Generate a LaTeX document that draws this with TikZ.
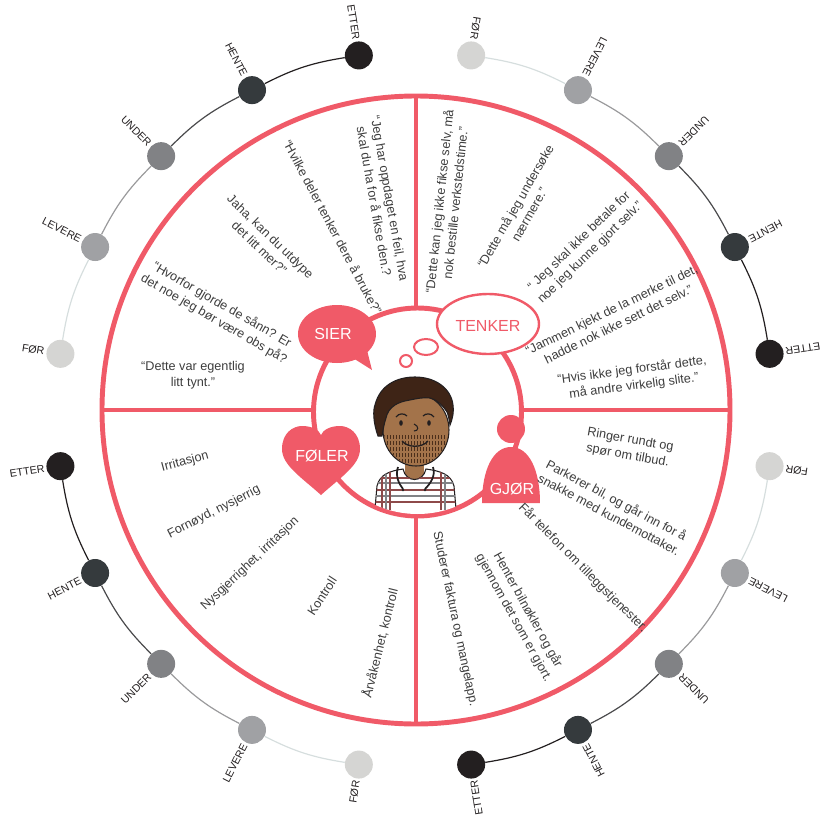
\documentclass[tikz,border=0pt]{standalone}
\usepackage{fontspec}
\setmainfont{Liberation Sans}
\usetikzlibrary{shapes.geometric}
\definecolor{jmred}{HTML}{F05A68}
\definecolor{jmtext}{HTML}{3D3D3D}
\definecolor{stfor}{HTML}{D5D5D3}
\definecolor{stlevere}{HTML}{A0A1A4}
\definecolor{stunder}{HTML}{818285}
\definecolor{sthente}{HTML}{353A3D}
\definecolor{stetter}{HTML}{231F20}
\definecolor{trailA}{HTML}{D6DEDE}
\definecolor{trailB}{HTML}{9A9A9C}
\definecolor{trailC}{HTML}{4A4A4C}
\definecolor{trailD}{HTML}{231F20}
\definecolor{skin}{HTML}{A3734A}
\definecolor{hair}{HTML}{3E2416}
\definecolor{beard}{HTML}{4B2E1A}
\definecolor{plaid}{HTML}{8E4A4A}
\tikzset{
  ring/.style    ={draw=jmred, line width=3.7pt},
  bubble/.style  ={draw=jmred, fill=white, line width=1.8pt},
  saying/.style  ={font=\fontsize{9.5}{12}\selectfont, text=jmtext, align=center, inner sep=0pt},
  badge/.style   ={font=\fontsize{12}{14}\selectfont, text=white, inner sep=0pt},
  stage/.style   ={circle, minimum size=21pt, inner sep=0pt},
  stagelbl/.style={font=\fontsize{8}{9}\selectfont, text=stetter, anchor=east, inner sep=0pt},
  trail/.style   ={line width=0.9pt},
  outline/.style ={draw=stetter, line width=0.8pt},
}

\begin{document}
\begin{tikzpicture}[x=0.75pt, y=0.75pt]
  \useasboundingbox (-415,-409) rectangle (407,410);

  % customer journey round the wheel, one arc per quarter
  \foreach \q in {0,90,180,270} {
    \foreach \a/\s/\c [count=\i] in {81/FØR/stfor, 63/LEVERE/stlevere, 45/UNDER/stunder, 27/HENTE/sthente, 9/ETTER/stetter} {
      \node[stage, fill=\c] (st\q-\i) at ({\q+\a}:359) {};
      \node[stagelbl, rotate={\q+\a+180}] (lb\q-\i) at ({\q+\a}:375) {\s};
    }
    \foreach \j/\k/\c in {1/2/trailA, 2/3/trailB, 3/4/trailC, 4/5/trailD}
      \draw[trail, draw=\c] (st\q-\j) to[bend left=9] (st\q-\k);
  }

  % wheel and quarters
  \draw[ring] (1,0) circle[radius=314];
  \draw[ring] (1,314) -- (1,-314);
  \draw[ring] (-313,0) -- (315,0);
  \filldraw[ring, fill=white] (2.5,-2) circle[radius=104];

  % the customer
  \begin{scope}
    \clip (2.5,-2) circle[radius=102];
    \fill[skin] (-10,-40) rectangle (9,-74);
    \filldraw[fill=white, outline] (-41,-110) -- (-38,-76) .. controls (-35,-64) and (-25,-61) .. (-12,-59)
      .. controls (-9,-73) and (8,-73) .. (11,-59) .. controls (25,-61) and (36,-64) .. (39,-76) -- (42,-110) -- cycle;
    \begin{scope}
      \clip (-41,-110) -- (-38,-76) .. controls (-35,-64) and (-25,-61) .. (-12,-59)
        .. controls (-9,-73) and (8,-73) .. (11,-59) .. controls (25,-61) and (36,-64) .. (39,-76) -- (42,-110) -- cycle;
      \foreach \py/\pc in {-68/plaid, -73/stunder, -80/plaid, -86/stunder, -92/plaid}
        \draw[\pc, line width=1pt] (-40,\py) -- (42,\py);
      \foreach \px/\pc in {-33/plaid, -29/stunder, -25/plaid, 26/plaid, 30/stunder}
        \draw[\pc, line width=1pt] (\px,-60) -- (\px,-100);
    \end{scope}
    \draw[stetter, line width=1.3pt] (-17,-57) .. controls (-20,-66) and (-16,-74) .. (-12,-79);
    \draw[stetter, line width=1.3pt] (18,-57) .. controls (21,-66) and (15,-74) .. (10,-79);
    \fill[stetter] (-12,-80) circle[radius=1.4] (10,-80) circle[radius=1.4];
    \filldraw[fill=skin, outline] (1,-20) ellipse[x radius=33, y radius=36];
    \begin{scope}
      \clip (1,-20) ellipse[x radius=32, y radius=35];
      \foreach \by in {-25,-31,...,-55}
        \foreach \bx in {-31,-28,...,31}
          \draw[beard, line width=0.5pt] (\bx,\by) -- ++(0,-4);
    \end{scope}
    \filldraw[fill=hair, outline] (-37,-26) .. controls (-42,-12) and (-42,0) .. (-40,5)
      .. controls (-35,25) and (-18,33) .. (0,33) .. controls (20,33) and (36,22) .. (38,5)
      .. controls (39,-4) and (37,-10) .. (35,-15) .. controls (34,-8) and (33,-4) .. (32,-2)
      .. controls (27,6) and (20,11) .. (15,12) .. controls (8,13) and (0,11) .. (-5,10)
      .. controls (-12,9) and (-17,7) .. (-20,5) .. controls (-25,2) and (-28,-3) .. (-29,-8)
      .. controls (-31,-14) and (-32,-20) .. (-33,-26) -- cycle;
    \draw[stetter, line width=0.9pt] (-19,-7) .. controls (-16,-3) and (-11,-3) .. (-8,-6);
    \draw[stetter, line width=0.9pt] (8,-6) .. controls (11,-3) and (16,-3) .. (19,-7);
    \fill[stetter] (-14,-13) ellipse[x radius=1.8, y radius=2.8] (14,-13) ellipse[x radius=1.8, y radius=2.8];
    \draw[stetter, line width=0.8pt] (-1,-14) .. controls (4,-16) and (4,-21) .. (-1,-21);
    \draw[stetter, line width=1pt] (-13,-31) .. controls (-7,-38) and (7,-38) .. (13,-31);
  \end{scope}

  % the four badges
  \fill[jmred] (-78,76) ellipse[x radius=39, y radius=29];
  \fill[jmred] (-62,52) -- (-43,40) -- (-48,60) -- cycle;
  \node[badge] (sier) at (-82,76) {SIER};

  \filldraw[bubble] (73,86) ellipse[x radius=51, y radius=30];
  \filldraw[bubble, line width=1.5pt] (11,63) ellipse[x radius=12, y radius=8];
  \filldraw[bubble, line width=1.5pt] (-9,49) circle[radius=6];
  \node[badge, text=jmred] (tenker) at (73,84) {TENKER};

  \fill[jmred, shift={(-94,-47)}] (0,-38) .. controls (-20,-20) and (-39,-8) .. (-39,8)
    .. controls (-39,24) and (-28,31) .. (-19,31) .. controls (-9,31) and (-2,27) .. (0,22)
    .. controls (2,27) and (9,31) .. (19,31) .. controls (28,31) and (39,24) .. (39,8)
    .. controls (39,-8) and (20,-20) .. (0,-38) -- cycle;
  \node[badge] (foler) at (-93,-46) {FØLER};

  \fill[jmred] (96,-19) circle[radius=14];
  \fill[jmred] (67,-93) .. controls (67,-60) and (78,-37) .. (96,-37)
    .. controls (114,-37) and (125,-60) .. (125,-93) -- cycle;
  \node[badge] (gjor) at (97,-79) {GJØR};

  % sier
  \node[saying, rotate=-80] (sier1) at (-33,210) {“Jeg har oppdaget en feil, hva\\skal du ha for å fikse den.?};
  \node[saying, rotate=-62] (sier2) at (-82,183) {“Hvilke deler tenker dere å bruke?”};
  \node[saying, rotate=-44] (sier3) at (-150,168) {Jaha, kan du utdype\\det litt mer?”};
  \node[saying, rotate=-30] (sier4) at (-197,98) {“Hvorfor gjorde de sånn? Er\\det noe jeg bør være obs på?};
  \node[saying] (sier5) at (-222,35) {“Dette var egentlig\\litt tynt.”};

  % tenker
  \node[saying, rotate=84] (tenk1) at (32,208) {“Dette kan jeg ikke fikse selv, må\\nok bestille verkstedstime.”};
  \node[saying, rotate=60] (tenk2) at (107,200) {“Dette må jeg undersøke\\nærmere.”};
  \node[saying, rotate=44] (tenk3) at (170,163) {“ Jeg skal ikke betale for\\noe jeg kunne gjort selv.”};
  \node[saying, rotate=26] (tenk4) at (200,93) {“Jammen kjekt de la merke til det,\\hadde nok ikke sett det selv.”};
  \node[saying, rotate=7.5] (tenk5) at (218,32) {“Hvis ikke jeg forstår dette,\\må andre virkelig slite.”};

  % gjør
  \node[saying, rotate=-10] (gjor1) at (214,-38) {Ringer rundt og\\spør om tilbud.};
  \node[saying, rotate=-28] (gjor2) at (198,-97) {Parkerer bil, og går inn for å\\snakke med kundemottaker.};
  \node[saying, rotate=-45] (gjor3) at (168,-158) {Får telefon om tilleggstjenester.};
  \node[saying, rotate=-61] (gjor4) at (106,-204) {Henter bilnøkler og går\\gjennom det som er gjort.};
  \node[saying, rotate=-78] (gjor5) at (40,-209) {Studerer faktura og mangelapp.};

  % føler
  \node[saying, rotate=15] (foler1) at (-230,-52) {Irritasjon};
  \node[saying, rotate=27] (foler2) at (-201,-102) {Fornøyd, nysjerrig};
  \node[saying, rotate=43.5] (foler3) at (-165,-154) {Nysgjerrighet, irritasjon};
  \node[saying, rotate=57] (foler4) at (-93,-186) {Kontroll};
  \node[saying, rotate=76] (foler5) at (-35,-233) {Årvåkenhet, kontroll};
\end{tikzpicture}
\end{document}
